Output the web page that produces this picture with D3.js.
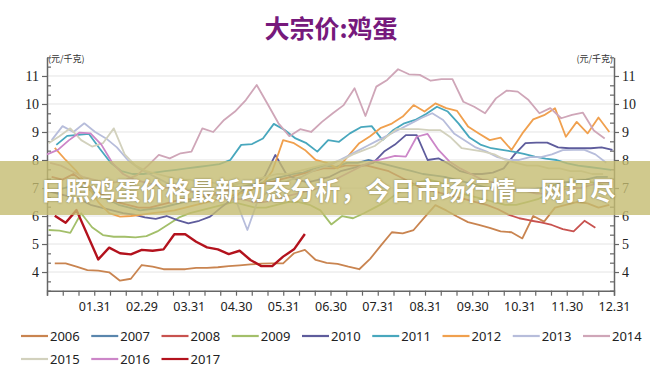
<!DOCTYPE html>
<html>
<head>
<meta charset="utf-8">
<script src="https://cdn.jsdelivr.net/npm/d3@7"></script>
<style>
  body { margin: 0; background: #fff; }
  svg { display: block; }
</style>
</head>
<body>
<svg id="chart" width="650" height="377"></svg>
<script>
// years shown in the legend, in drawing order
const years = ["2006", "2007", "2008", "2009", "2010", "2011", "2012", "2013", "2014", "2015", "2016", "2017"];
const colors = ["#c98450", "#5a86ad", "#c8524f", "#a3bf6a", "#5e5c9c", "#48a7bd", "#f0a04e", "#b7bddb", "#cfa6b8", "#d2d1bd", "#cc86c8", "#b3121d"];

// day of year of the first weekly quote (weekly prices, 元/千克)
const firstDay = [5, 4, 3, 1, 0, 6, 5, 3, 2, 1, 0, 5];

const v2006 = [4.31, 4.31, 4.19, 4.07, 4.05, 3.99, 3.69, 3.76, 4.25, 4.19, 4.10, 4.10, 4.10, 4.15, 4.15, 4.17, 4.21, 4.24, 4.27, 4.30, 4.31, 4.31, 4.67, 4.79, 4.43, 4.33, 4.29, 4.19, 4.10, 4.47, 4.95, 5.42, 5.38, 5.50, 5.95, 6.39, 6.20, 5.98, 5.78, 5.68, 5.58, 5.45, 5.42, 5.20, 6.00, 5.80, 6.30, 6.40, 6.50, 6.45, 6.30, 6.40];
const v2007 = [6.9, 7.0, 7.1, 7.0, 6.8, 6.6, 6.4, 6.3, 6.2, 6.25, 6.3, 6.4, 6.5, 6.55, 6.7, 6.8, 6.85, 7.0, 7.1, 7.15, 7.3, 7.4, 7.5, 7.55, 7.7, 7.8, 7.75, 7.9, 7.9, 8.0, 7.9, 7.8, 7.7, 7.6, 7.5, 7.45, 7.4, 7.3, 7.2, 7.1, 7.0, 7.05, 7.0, 6.9, 6.95, 7.0, 7.1, 7.2, 7.25, 7.3, 7.4, 7.4];
const v2008 = [7.4, 7.3, 7.5, 7.2, 6.9, 6.7, 6.5, 6.4, 6.3, 6.3, 6.4, 6.5, 6.6, 6.6, 6.7, 6.8, 6.9, 7.0, 7.0, 7.1, 7.2, 7.3, 7.4, 7.5, 7.6, 7.7, 7.7, 7.8, 7.8, 7.8, 7.7, 7.6, 7.4, 7.2, 7.0, 6.9, 6.8, 6.7, 6.6, 6.5, 6.4, 6.25, 6.05, 5.92, 5.84, 5.77, 5.68, 5.53, 5.45, 5.83, 5.58];
const v2009 = [5.5, 5.48, 5.4, 6.1, 5.6, 5.32, 5.26, 5.26, 5.24, 5.28, 5.45, 5.7, 5.95, 6.1, 6.2, 6.3, 6.4, 6.5, 6.4, 6.3, 6.3, 6.4, 6.5, 6.5, 6.4, 6.2, 5.7, 6.0, 5.92, 6.1, 6.3, 6.5, 6.8, 7.0, 7.2, 7.3, 7.2, 7.0, 6.8, 6.7, 6.6, 6.5, 6.4, 6.4, 6.5, 6.6, 6.8, 7.0, 7.1, 7.2, 7.2, 7.1];
const v2010 = [6.9, 6.8, 6.7, 6.6, 6.4, 6.3, 6.2, 6.1, 6.05, 5.95, 5.9, 6.0, 5.85, 5.74, 5.83, 5.98, 6.3, 6.6, 6.9, 7.1, 7.4, 8.18, 7.5, 7.3, 7.2, 7.3, 7.4, 7.6, 7.7, 7.8, 7.9, 8.3, 8.55, 8.89, 8.89, 8.0, 8.06, 7.85, 7.6, 7.5, 7.5, 7.55, 7.7, 8.2, 8.6, 8.62, 8.62, 8.45, 8.42, 8.42, 8.42, 8.45, 8.36];
const v2011 = [8.54, 8.86, 8.9, 8.93, 8.4, 7.9, 7.6, 7.5, 7.5, 7.55, 7.6, 7.65, 7.7, 7.75, 7.8, 7.85, 8.0, 8.54, 8.57, 8.77, 9.29, 9.07, 8.77, 8.6, 8.3, 8.71, 8.65, 8.95, 9.17, 9.21, 8.71, 9.07, 9.31, 9.43, 9.64, 9.9, 9.73, 9.3, 8.8, 8.55, 8.42, 8.36, 8.3, 8.22, 8.12, 8.05, 8.0, 7.88, 7.8, 7.75, 7.7, 7.65];
const v2012 = [8.43, 8.0, 7.6, 7.1, 6.5, 6.1, 5.98, 6.0, 6.05, 6.1, 6.15, 6.2, 6.3, 6.4, 6.5, 6.6, 6.7, 6.8, 6.9, 7.1, 7.6, 8.71, 8.6, 8.36, 8.0, 7.9, 7.7, 8.15, 8.6, 8.85, 9.15, 9.3, 9.55, 9.96, 9.73, 10.02, 9.85, 9.75, 9.2, 8.95, 8.71, 8.8, 8.36, 8.95, 9.45, 9.6, 9.85, 8.83, 9.36, 8.95, 9.52, 9.0];
const v2013 = [8.71, 9.21, 9.0, 9.31, 9.0, 8.77, 8.45, 8.0, 7.7, 7.5, 7.3, 7.1, 7.0, 6.9, 6.9, 6.8, 6.6, 6.5, 5.5, 6.6, 6.9, 7.1, 7.3, 7.4, 7.6, 7.75, 7.9, 8.1, 8.3, 8.5, 8.7, 8.9, 9.1, 9.3, 9.5, 9.67, 9.43, 8.95, 8.7, 8.45, 8.3, 8.1, 8.0, 8.0, 8.1, 8.1, 8.2, 8.35, 8.36, 8.36, 8.2, 7.9];
const v2014 = [7.9, 7.8, 7.6, 7.4, 7.3, 7.2, 7.2, 7.3, 7.46, 7.8, 8.18, 8.06, 8.24, 8.3, 9.13, 9.0, 9.43, 9.73, 10.14, 10.68, 10.0, 9.31, 8.85, 9.1, 9.0, 9.36, 9.67, 9.96, 10.56, 9.57, 10.62, 10.86, 11.24, 11.06, 11.04, 10.83, 10.89, 10.89, 10.08, 9.9, 9.67, 10.2, 10.48, 10.44, 10.14, 9.67, 9.85, 9.49, 9.61, 9.69, 9.05, 8.77];
const v2015 = [8.6, 8.85, 9.13, 8.71, 8.48, 8.6, 9.13, 8.2, 7.8, 7.6, 7.5, 7.4, 7.3, 7.3, 7.2, 7.2, 7.1, 7.1, 7.2, 7.3, 7.4, 7.5, 7.5, 7.6, 7.7, 7.8, 7.9, 8.0, 8.2, 8.35, 8.5, 8.8, 9.1, 9.1, 9.1, 9.07, 9.07, 8.8, 8.42, 8.36, 8.3, 8.2, 8.0, 7.9, 7.8, 7.8, 7.7, 7.7, 7.6, 7.6, 7.5, 7.5];
const v2016 = [8.2, 8.36, 8.7, 8.98, 8.95, 8.55, 7.9, 7.5, 7.3, 7.2, 7.1, 7.0, 7.0, 6.9, 6.8, 6.8, 6.7, 6.6, 6.6, 6.5, 6.5, 6.6, 6.7, 6.8, 6.9, 7.0, 7.2, 7.4, 7.6, 7.8, 7.95, 8.05, 8.15, 8.12, 8.83, 8.93, 8.36, 7.95, 7.7, 7.5, 7.3, 7.2, 7.0, 6.9, 6.9, 6.8, 6.8, 6.9, 7.0, 7.0, 7.1, 7.2, 7.2];
const v2017 = [6.01, 5.76, 6.21, null, 4.45, 4.87, 4.67, 4.63, 4.79, 4.76, 4.81, 5.35, 5.35, 5.08, 4.88, 4.81, 4.64, 4.76, 4.43, 4.21, 4.21, 4.55, 4.81, 5.36];

const seriesValues = [v2006, v2007, v2008, v2009, v2010, v2011, v2012, v2013, v2014, v2015, v2016, v2017];

// month-end labels on the x axis
const tickLabels = ["01.31", "02.29", "03.31", "04.30", "05.31", "06.30", "07.31", "08.31", "09.30", "10.31", "11.30", "12.31"];
const yLabels = [4, 5, 6, 7, 8, 9, 10, 11];

const svg = d3.select("#chart");

// plot area
const left = 47, right = 614;
const x = d3.scaleLinear().domain([0, 365]).range([left, right]);
const y = d3.scaleLinear().domain([10 / 3, 35 / 3]).range([290.7, 57.3]);

// title
svg.append("text")
  .attr("x", 331).attr("y", 38)
  .attr("text-anchor", "middle")
  .attr("font-family", "Noto Sans CJK SC")
  .attr("font-weight", 700)
  .attr("font-size", 25)
  .attr("fill", "#76197c")
  .text("大宗价:鸡蛋");

// unit labels
svg.append("text")
  .attr("x", 48).attr("y", 62)
  .attr("font-family", "Noto Sans CJK SC")
  .attr("font-size", 9)
  .attr("fill", "#333")
  .text("(元/千克)");
svg.append("text")
  .attr("x", 613).attr("y", 62)
  .attr("text-anchor", "end")
  .attr("font-family", "Noto Sans CJK SC")
  .attr("font-size", 9)
  .attr("fill", "#333")
  .text("(元/千克)");

// gridlines
svg.append("g")
  .selectAll("line")
  .data(yLabels)
  .enter()
  .append("line")
  .attr("x1", left).attr("x2", right)
  .attr("y1", (d) => y(d)).attr("y2", (d) => y(d))
  .attr("stroke", "#e4e4e4")
  .attr("stroke-width", 1);

// y axes, ticks every third of a unit
const yTicks = d3.range(10, 36).map((k) => k / 3);
const isMajor = (d) => Math.abs(d - Math.round(d)) < 1e-6;

function styleAxis(g, side) {
  g.select(".domain").attr("stroke", "#666").attr("stroke-width", 1.5);
  g.selectAll(".tick line")
    .attr("stroke", "#666")
    .attr("stroke-width", 1.2)
    .attr("x2", (d) => (isMajor(d) ? -5 : 4) * side);
  g.selectAll(".tick text")
    .attr("font-family", "Liberation Serif")
    .attr("font-size", 14)
    .attr("fill", "#222")
    .attr("x", -8 * side);
}

const yLeft = svg.append("g")
  .attr("transform", `translate(${left},0)`)
  .call(d3.axisLeft(y).tickValues(yTicks).tickSizeOuter(0)
    .tickFormat((d) => (isMajor(d) && d >= 4 && d <= 11 ? Math.round(d) : "")));
styleAxis(yLeft, 1);

const yRight = svg.append("g")
  .attr("transform", `translate(${right},0)`)
  .call(d3.axisRight(y).tickValues(yTicks).tickSizeOuter(0)
    .tickFormat((d) => (isMajor(d) && d >= 4 && d <= 11 ? Math.round(d) : "")));
styleAxis(yRight, -1);

// x axis: one tick per ten-day period
const xTicks = d3.range(37).map((k) => (k * 365) / 36);
const xAxis = svg.append("g")
  .attr("transform", `translate(0,${y.range()[0]})`)
  .call(d3.axisBottom(x).tickValues(xTicks).tickSizeOuter(0).tickSize(5)
    .tickFormat((d, k) => (k % 3 === 0 && k > 0 ? tickLabels[k / 3 - 1] : "")));
xAxis.select(".domain").attr("stroke", "#666").attr("stroke-width", 1.5);
xAxis.selectAll(".tick line").attr("stroke", "#666").attr("stroke-width", 1.2);
xAxis.selectAll(".tick text")
  .attr("font-family", "Noto Sans")
  .attr("font-size", 12.5)
  .attr("fill", "#222")
  .attr("y", 11);

// the yearly lines
const line = d3.line()
  .x((d) => x(d.day))
  .y((d) => y(d.value));

seriesValues.forEach((values, s) => {
  const points = values
    .map((v, i) => ({ day: firstDay[s] + 7 * i, value: v }))
    .filter((d) => d.value !== null);
  svg.append("path")
    .datum(points)
    .attr("d", line)
    .attr("fill", "none")
    .attr("stroke", colors[s])
    .attr("stroke-width", years[s] === "2017" ? 2.4 : 1.8)
    .attr("stroke-linejoin", "round");
});

// legend
const legend = svg.append("g")
  .selectAll("g")
  .data(years)
  .enter()
  .append("g")
  .attr("transform", (d, i) => `translate(${21 + (i % 9) * 70.25},${i < 9 ? 336 : 359})`);
legend.append("line")
  .attr("x1", 0).attr("x2", 27)
  .attr("stroke", (d, i) => colors[i])
  .attr("stroke-width", 2.2);
legend.append("text")
  .attr("x", 29).attr("y", 5)
  .attr("font-family", "Noto Sans")
  .attr("font-size", 13)
  .attr("fill", "#222")
  .text((d) => d);

// overlay banner with headline
svg.append("rect")
  .attr("x", 0).attr("y", 161)
  .attr("width", 650).attr("height", 54)
  .attr("fill", "rgb(196,188,112)")
  .attr("fill-opacity", 0.8);
svg.append("text")
  .attr("x", 328).attr("y", 189)
  .attr("text-anchor", "middle")
  .attr("dominant-baseline", "central")
  .attr("font-family", "Noto Sans CJK SC")
  .attr("font-weight", 700)
  .attr("font-size", 25)
  .attr("fill", "#fff")
  .style("text-shadow", "0 0 2px rgba(80,70,30,0.6)")
  .text("日照鸡蛋价格最新动态分析，今日市场行情一网打尽");
</script>
</body>
</html>
